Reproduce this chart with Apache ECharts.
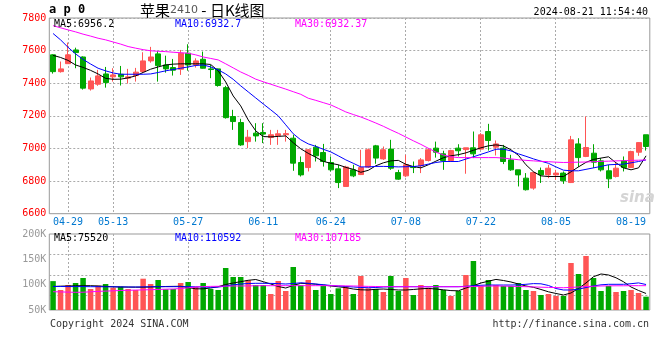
<!DOCTYPE html>
<html><head><meta charset="utf-8">
<script src="https://cdn.jsdelivr.net/npm/echarts@6/dist/echarts.min.js"></script>
<style>html,body{margin:0;padding:0;background:#fff}#c{width:660px;height:360px}</style>
</head><body><div id="c"></div>
<script>
const dates = ["04-25","04-26","04-29","04-30","05-06","05-07","05-08","05-09","05-13","05-14",
"05-15","05-16","05-17","05-20","05-21","05-22","05-23","05-24","05-27","05-28",
"05-29","05-30","05-31","06-03","06-04","06-05","06-06","06-07","06-11","06-12",
"06-13","06-14","06-17","06-18","06-19","06-20","06-21","06-24","06-25","06-26",
"06-27","06-28","07-01","07-02","07-03","07-04","07-05","07-08","07-09","07-10",
"07-11","07-12","07-15","07-16","07-17","07-18","07-19","07-22","07-23","07-24",
"07-25","07-26","07-29","07-30","07-31","08-01","08-02","08-05","08-06","08-07",
"08-08","08-09","08-12","08-13","08-14","08-15","08-16","08-19","08-20","08-21"];
const labelDates = ["04-29","05-13","05-27","06-11","06-24","07-08","07-22","08-05","08-19"];
const gridDates = ["04-29","05-13","05-27","06-11","06-24","07-08","07-22","08-05"];

const opens = [7574,7471,7520,7604,7561,7365,7394,7457,7439,7455,
7431,7447,7471,7537,7580,7512,7496,7486,7584,7512,
7547,7488,7488,7373,7196,7159,7042,7094,7098,7067,
7079,7084,7063,6914,6883,7008,6975,6914,6875,6767,
6869,6840,6886,7016,6936,6996,6852,6832,6889,6894,
6926,7002,6967,6926,7002,6993,7004,6996,7104,7008,
7002,6930,6869,6818,6757,6865,6838,6838,6849,6791,
7028,6951,6971,6924,6863,6828,6924,6883,6977,7084];
const closes = [7471,7488,7574,7588,7370,7414,7445,7404,7451,7439,
7439,7468,7537,7561,7508,7488,7480,7584,7512,7537,
7492,7484,7386,7189,7165,7022,7069,7077,7088,7084,
7090,7091,6910,6838,6992,6955,6920,6869,6791,6886,
6832,6883,6992,6941,6992,6879,6812,6900,6883,6930,
6992,6977,6926,6987,6986,7004,6967,7084,7049,7028,
6920,6869,6838,6747,6852,6838,6879,6849,6802,7053,
6944,7006,6916,6869,6814,6879,6883,6981,7036,7012];
const lows = [7459,7465,7518,7492,7361,7355,7384,7373,7410,7386,
7398,7410,7462,7526,7410,7465,7447,7451,7477,7496,
7490,7431,7379,7183,7114,7016,7002,7042,7033,7022,
7022,7042,6863,6828,6859,6920,6889,6859,6757,6767,
6824,6837,6880,6906,6930,6869,6808,6824,6849,6849,
6920,6944,6869,6920,6951,6845,6941,6992,6987,6957,
6904,6863,6767,6742,6747,6788,6818,6808,6783,6788,
6886,6947,6880,6859,6757,6822,6859,6880,6955,6987];
const highs = [7578,7533,7649,7618,7565,7435,7482,7500,7492,7506,
7488,7494,7590,7623,7598,7569,7549,7604,7639,7553,
7594,7512,7490,7384,7237,7182,7114,7155,7155,7114,
7114,7114,7084,6951,6996,7022,7028,6951,6900,6894,
6900,6992,7000,7022,7012,7053,6869,6961,6920,6941,
7002,7042,6986,6992,7026,7004,7104,7094,7151,7049,
7022,6961,6869,6849,6859,6883,6900,6869,6859,7077,
7063,7196,7026,6941,6900,6910,6951,6986,7039,7084];

const ma5 = [7571,7558,7540,7512,7497,7479,7457,7430,7424,7425,
7433,7445,7466,7486,7500,7512,7517,7519,7519,7519,
7519,7515,7476,7408,7322,7261,7175,7108,7073,7071,
7074,7077,7035,6998,6970,6946,6921,6909,6900,6884,
6872,6854,6866,6894,6912,6924,6927,6903,6889,6881,
6900,6922,6943,6955,6962,6973,6989,7004,7016,7022,
7016,6992,6958,6900,6857,6832,6828,6828,6828,6857,
6887,6915,6933,6941,6949,6912,6881,6869,6881,6955];
const ma10 = [7705,7666,7620,7580,7546,7518,7492,7476,7463,7455,
7455,7455,7455,7457,7466,7476,7484,7492,7500,7509,
7512,7500,7482,7457,7424,7384,7347,7310,7273,7237,
7200,7145,7090,7053,7028,7013,6995,6979,6955,6930,
6909,6887,6887,6890,6890,6889,6887,6888,6889,6894,
6904,6914,6920,6920,6920,6935,6949,6964,6979,6995,
6996,6985,6967,6952,6936,6922,6909,6887,6867,6863,
6863,6872,6881,6890,6900,6902,6904,6912,6920,6930];
const ma30 = [7753,7740,7727,7715,7701,7689,7676,7666,7653,7640,
7625,7615,7606,7599,7596,7594,7590,7587,7584,7574,
7561,7552,7543,7519,7494,7469,7448,7425,7409,7394,
7379,7364,7348,7332,7308,7295,7281,7267,7246,7224,
7208,7193,7175,7156,7136,7114,7093,7070,7047,7025,
7001,6978,6960,6949,6944,6944,6944,6944,6944,6944,
6941,6936,6931,6927,6924,6921,6919,6916,6914,6915,
6916,6917,6919,6921,6922,6924,6925,6927,6928,6930];

const vols = [107000,89500,99300,103300,113200,91400,98000,101300,94000,96000,
91400,89500,111800,101300,109200,90900,91400,103300,105300,95400,
103300,91400,89500,132900,115100,115100,108600,99300,99300,81600,
107200,87500,134900,98800,109200,89500,97400,81600,92800,97400,
81600,117100,92800,91400,85500,117100,87500,113200,79600,99300,
94000,99300,89500,77600,87500,119100,146700,97400,109200,99300,
97400,97400,103300,89500,87500,79600,81600,77600,77600,142800,
121100,156600,113200,87500,97400,85500,87500,89500,83600,76300];
const vma5 = [96400,97000,97400,97800,98000,98000,97400,96600,95800,95400,
95200,95000,95000,95400,96000,96400,96600,96800,94400,91800,
91800,93400,96000,100300,103300,105900,108600,110200,105900,101300,
96400,93400,98400,102700,101900,100900,99300,97400,95800,94200,
91400,89900,89500,90900,91400,90500,89500,89500,90500,91800,
92600,91400,89900,88300,87900,93400,98000,103300,106800,110400,
108200,105300,101300,97400,94800,90500,85900,82600,79600,83600,
92400,103300,115700,121100,119100,113600,105700,95400,88500,82600];
const vma10 = [96400,96400,96200,96200,96200,96000,96000,95800,95800,95600,
95400,95400,95600,95800,96000,96000,96000,96000,96000,95800,
95400,94800,95200,97400,99700,101300,102300,102700,102700,102500,
102100,101300,102300,103700,102700,101300,99900,98400,97400,96400,
95400,94400,94000,94400,95400,95800,96000,96000,96000,96000,
96000,96000,96000,96000,96000,96800,97800,98800,99300,99300,
99300,99300,99700,100700,102100,101700,98400,92400,89500,89500,
91100,94400,97400,99700,100700,100700,100700,101900,103500,100300];
const vma30 = [86100,85700,85300,84900,85100,85900,86700,87300,87900,88500,
88900,89300,89700,90100,90500,91100,91400,92400,93800,95400,
96200,96600,96800,97000,97400,97400,97600,97800,98000,98000,
98000,98000,98000,98000,98000,98000,98000,98000,97800,97600,
97400,97000,96600,96400,96200,96000,96000,96000,96000,96000,
96000,96000,96000,96000,96000,96000,96400,96800,97200,97400,
97200,96800,96400,96000,95600,95000,94600,94200,94000,94600,
95400,96200,96800,97400,97600,97800,97800,98000,98000,98000];

const priceMin = 6600, priceMax = 7800, priceStep = 200;
const volMin = 50000, volMax = 200000, volStep = 50000;

const UP = '#ff5555', DOWN = '#00a800';
const MONO = '"DejaVu Sans Mono", monospace';
const VOL_GRID = {left: 49.3, width: 600.5, top: 234, height: 76};
const volGuideFractions = [0.27, 0.54, 0.81];

const candle = opens.map((o, i) => [o, closes[i], lows[i], highs[i]]);
const volData = vols.map((v, i) => ({value: v, itemStyle: {color: closes[i] >= opens[i] ? UP : DOWN}}));
const isLabel = (i, v) => labelDates.indexOf(v) >= 0;
const snap = v => Math.round(v - 0.5) + 0.5;
const gridIdx = gridDates.map(d => dates.indexOf(d));

const chart = echarts.init(document.getElementById('c'), null, {renderer: 'canvas'});
const lineS = (name, data, color, xi, yi) => ({
  name, type: 'line', data, xAxisIndex: xi, yAxisIndex: yi, symbol: 'none', silent: true,
  lineStyle: {color, width: 1}, z: 5, animation: false
});
const guideStyle = () => ({stroke: '#aaaaaa', lineWidth: 1, lineDash: [2, 2], fill: null});
const guides = {
  type: 'custom', xAxisIndex: 0, yAxisIndex: 0, silent: true, z: 2, animation: false,
  data: gridIdx.map(i => [i, priceMin]),
  renderItem: (params, api) => {
    const cs = params.coordSys;
    const x = snap(api.coord([api.value(0), api.value(1)])[0]);
    return {type: 'line', shape: {x1: x, y1: cs.y, x2: x, y2: cs.y + cs.height}, style: guideStyle()};
  }
};
const txt = (text, x, y, fill, align, font) => ({
  type: 'text', x, y, z: 100,
  style: {text, fill, font: font || ('10px ' + MONO), align: align || 'left', verticalAlign: 'middle'}
});

chart.setOption({
  animation: false,
  backgroundColor: '#fff',
  grid: [
    {left: 49.3, width: 600.5, top: 18, height: 195.7, show: true, borderColor: '#999', borderWidth: 1, backgroundColor: 'transparent'},
    {left: VOL_GRID.left, width: VOL_GRID.width, top: VOL_GRID.top, height: VOL_GRID.height, show: true, borderColor: '#999', borderWidth: 1, backgroundColor: 'transparent'}
  ],
  xAxis: [
    {type: 'category', gridIndex: 0, data: dates, boundaryGap: true,
     axisLine: {show: false}, axisTick: {show: false},
     axisLabel: {interval: isLabel, color: '#0078d0', fontSize: 10, fontFamily: MONO, margin: 4},
     splitLine: {show: false}},
    {type: 'category', gridIndex: 1, data: dates, boundaryGap: true,
     axisLine: {show: false}, axisTick: {show: false}, axisLabel: {show: false},
     splitLine: {show: false}}
  ],
  yAxis: [
    {type: 'value', gridIndex: 0, min: priceMin, max: priceMax, interval: priceStep,
     axisLine: {show: false}, axisTick: {show: false},
     axisLabel: {color: '#ff0000', fontSize: 10, fontFamily: MONO, margin: 3, padding: [0, 0, 4, 0],
       formatter: v => String(v)},
     splitLine: {show: true, lineStyle: {color: '#aaaaaa', width: 1, type: [2, 2]}}},
    {type: 'value', gridIndex: 1, min: volMin, max: volMax, interval: volStep,
     axisLine: {show: false}, axisTick: {show: false},
     axisLabel: {color: '#999999', fontSize: 10, fontFamily: MONO, margin: 3,
       formatter: v => (v / 1000) + 'K'},
     splitLine: {show: false}}
  ],
  series: [
    guides,
    {name: 'K', type: 'candlestick', data: candle, xAxisIndex: 0, yAxisIndex: 0, barWidth: 5.5,
     silent: true, z: 3,
     itemStyle: {color: UP, color0: DOWN, borderColor: UP, borderColor0: DOWN, borderWidth: 1}},
    lineS('MA5', ma5, '#000000', 0, 0),
    lineS('MA10', ma10, '#0000ff', 0, 0),
    lineS('MA30', ma30, '#ff00ff', 0, 0),
    {name: 'VOL', type: 'bar', data: volData, xAxisIndex: 1, yAxisIndex: 1, barWidth: 5.5, silent: true, z: 3},
    lineS('VMA5', vma5, '#000000', 1, 1),
    lineS('VMA10', vma10, '#0000ff', 1, 1),
    lineS('VMA30', vma30, '#ff00ff', 1, 1)
  ]
});

// volume-panel guides, placed through the volume category axis
const volTop = VOL_GRID.top, volBottom = VOL_GRID.top + VOL_GRID.height;
const volGuides = gridIdx.map(i => {
  const x = snap(chart.convertToPixel({xAxisIndex: 1}, i));
  return {type: 'line', silent: true, z: 2, shape: {x1: x, y1: volTop, x2: x, y2: volBottom}, style: guideStyle()};
}).concat(volGuideFractions.map(f => {
  const y = snap(volTop + VOL_GRID.height * f);
  return {type: 'line', silent: true, z: 2, shape: {x1: VOL_GRID.left, y1: y, x2: VOL_GRID.left + VOL_GRID.width, y2: y}, style: guideStyle()};
}));

chart.setOption({
  graphic: volGuides.concat([
    txt('a p 0', 49, 10, '#000', 'left', 'bold 12px ' + MONO),
    {type: 'text', x: 140, y: 10, z: 100, style: {
      text: '{a|苹果}{b|2410}{a| - 日K线图}', align: 'left', verticalAlign: 'middle',
      rich: {
        a: {fontFamily: '"Noto Sans CJK SC", sans-serif', fontSize: 15, fill: '#000', color: '#000'},
        b: {fontFamily: '"DejaVu Sans", sans-serif', fontSize: 11, fill: '#555', color: '#555'}
      }}},
    txt('2024-08-21 11:54:40', 648, 12, '#000', 'right'),
    txt('MA5:6956.2', 54, 24, '#000000'),
    txt('MA10:6932.7', 175, 24, '#0000ff'),
    txt('MA30:6932.37', 295, 24, '#ff00ff'),
    txt('MA5:75520', 54, 238.5, '#000000'),
    txt('MA10:110592', 175, 238.5, '#0000ff'),
    txt('MA30:107185', 295, 238.5, '#ff00ff'),
    txt('Copyright 2024 SINA.COM', 50, 324, '#333333'),
    txt('http://finance.sina.com.cn', 649, 324, '#333333', 'right'),
    {type: 'text', x: 620, y: 198, z: 1, style: {text: 'sina', fill: '#d4d4d4', font: 'italic bold 15px "DejaVu Sans", sans-serif', align: 'left', verticalAlign: 'middle'}}
  ])
});
</script></body></html>
